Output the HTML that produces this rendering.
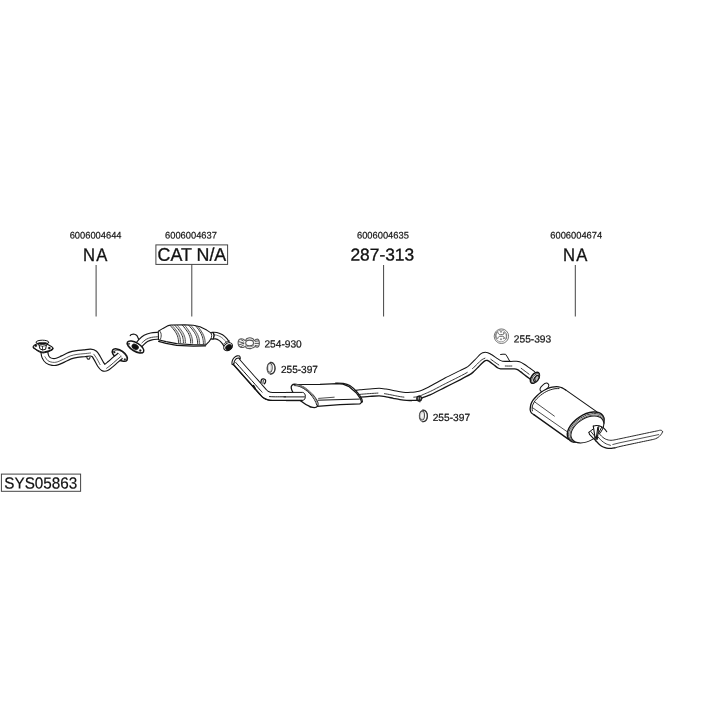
<!DOCTYPE html>
<html>
<head>
<meta charset="utf-8">
<title>SYS05863</title>
<style>
html,body{margin:0;padding:0;background:#fff;}
body{width:720px;height:720px;overflow:hidden;position:relative;}
svg{will-change:transform;position:absolute;left:0;top:0;display:block;}
text{text-rendering:geometricPrecision;font-family:"Liberation Sans",sans-serif;fill:#111;}
.s{font-size:9.5px;stroke:#1a1a1a;stroke-width:0.2px;}
.m{font-size:10.4px;stroke:#111;stroke-width:0.2px;}
.b{font-size:18.3px;stroke:#111;stroke-width:0.3px;}
.p{fill:none;stroke:#1a1a1a;stroke-width:0.9;stroke-linecap:round;stroke-linejoin:round;}
.pf{fill:#fff;stroke:#1a1a1a;stroke-width:0.9;stroke-linecap:round;stroke-linejoin:round;}
.l{stroke:#444;stroke-width:1;fill:none;}
</style>
</head>
<body>
<svg width="720" height="720" viewBox="0 0 720 720">
<rect width="720" height="720" fill="#fff"/>
<!-- TEXT -->
<g id="labels">
<text class="s" transform="translate(95.6 238.6) rotate(0.03) scale(0.982 1)" text-anchor="middle">6006004644</text>
<text class="b" transform="translate(95.75 260.8) rotate(0.03) scale(0.91 1)" text-anchor="middle" letter-spacing="1.3">NA</text>
<text class="s" transform="translate(191.0 238.6) rotate(0.03) scale(0.982 1)" text-anchor="middle">6006004637</text>
<text class="b" transform="translate(191.9 260.8) rotate(0.03) scale(0.975 1)" text-anchor="middle">CAT N/A</text>
<text class="s" transform="translate(382.9 238.6) rotate(0.03) scale(0.982 1)" text-anchor="middle">6006004635</text>
<text class="b" style="font-size:17.2px" transform="translate(382.3 260.5) rotate(0.03) scale(1.01 1)" text-anchor="middle">287-313</text>
<text class="s" transform="translate(576.2 238.6) rotate(0.03) scale(0.982 1)" text-anchor="middle">6006004674</text>
<text class="b" transform="translate(575.85 260.8) rotate(0.03) scale(0.91 1)" text-anchor="middle" letter-spacing="1.3">NA</text>
<text class="m" transform="translate(264.4 347.4) rotate(0.03) scale(0.98 1)">254-930</text>
<text class="m" transform="translate(280.9 373.1) rotate(0.03) scale(0.972 1)">255-397</text>
<text class="m" transform="translate(513.8 342.5) rotate(0.03) scale(0.98 1)">255-393</text>
<text class="m" transform="translate(432.7 421.0) rotate(0.03) scale(0.98 1)">255-397</text>
<text class="b" style="font-size:16px;stroke-width:0.2px" transform="translate(4.3 488.4) rotate(0.03) scale(0.953 1)">SYS05863</text>
</g>
<g id="leaders">
<rect class="l" x="155.9" y="244.9" width="71.7" height="19.5"/>
<rect class="l" x="1.4" y="474.1" width="79.2" height="17.2"/>
<line class="l" x1="96.1" y1="265" x2="96.1" y2="316.5"/>
<line class="l" x1="191.8" y1="264.4" x2="191.8" y2="316.5"/>
<line class="l" x1="383.6" y1="265" x2="383.6" y2="316.5"/>
<line class="l" x1="575.3" y1="265" x2="575.3" y2="316.5"/>
</g>
<!-- PARTS -->
<g id="parts">
<g id="frontpipe">
<ellipse cx="119.9" cy="355.1" rx="8.8" ry="4.5" fill="#fff" stroke="#151515" stroke-width="1.5" transform="rotate(35 119.9 355.1)"/>
<path d="M113.3 351.6C113.92 351.37 115.55 350.17 117 350.2C118.45 350.23 120.47 350.75 122 351.8C123.53 352.85 125.43 355.2 126.2 356.5C126.97 357.8 126.53 359.08 126.6 359.6" fill="none" stroke="#151515" stroke-width="0.6" stroke-linecap="round" stroke-linejoin="round"/>
<ellipse cx="114.4" cy="352.2" rx="0.9" ry="0.9" fill="#222" stroke="#151515" stroke-width="0.3"/>
<ellipse cx="124.9" cy="359.4" rx="0.9" ry="0.9" fill="#222" stroke="#151515" stroke-width="0.3"/>
<path d="M44.3 351.5C44.47 352.33 44.65 355.02 45.3 356.5C45.95 357.98 47 359.5 48.2 360.4C49.4 361.3 51.03 361.7 52.5 361.9C53.97 362.1 55.25 362.08 57 361.6C58.75 361.12 60.83 360 63 359C65.17 358 67.67 356.43 70 355.6C72.33 354.77 74.67 354.38 77 354C79.33 353.62 81.75 353.53 84 353.3C86.25 353.07 88.78 352.5 90.5 352.6C92.22 352.7 93.17 352.95 94.3 353.9C95.43 354.85 96.25 356.57 97.3 358.3C98.35 360.03 99.6 362.78 100.6 364.3C101.6 365.82 102.35 366.88 103.3 367.4C104.25 367.92 105.1 367.93 106.3 367.4C107.5 366.87 108.97 365.47 110.5 364.2C112.03 362.93 113.85 361.22 115.5 359.8C117.15 358.38 119.58 356.38 120.4 355.7" fill="none" stroke="#151515" stroke-width="8.05" stroke-linecap="butt" stroke-linejoin="round"/>
<path d="M44.3 351.5C44.47 352.33 44.65 355.02 45.3 356.5C45.95 357.98 47 359.5 48.2 360.4C49.4 361.3 51.03 361.7 52.5 361.9C53.97 362.1 55.25 362.08 57 361.6C58.75 361.12 60.83 360 63 359C65.17 358 67.67 356.43 70 355.6C72.33 354.77 74.67 354.38 77 354C79.33 353.62 81.75 353.53 84 353.3C86.25 353.07 88.78 352.5 90.5 352.6C92.22 352.7 93.17 352.95 94.3 353.9C95.43 354.85 96.25 356.57 97.3 358.3C98.35 360.03 99.6 362.78 100.6 364.3C101.6 365.82 102.35 366.88 103.3 367.4C104.25 367.92 105.1 367.93 106.3 367.4C107.5 366.87 108.97 365.47 110.5 364.2C112.03 362.93 113.85 361.22 115.5 359.8C117.15 358.38 119.58 356.38 120.4 355.7" fill="none" stroke="#fff" stroke-width="5.75" stroke-linecap="butt" stroke-linejoin="round"/>
<path d="M44.98 356.74C45.48 357.4 46.72 359.79 47.96 360.72C49.2 361.65 50.92 362.09 52.45 362.3C53.97 362.51 55.32 362.47 57.11 361.99C58.89 361.5 61 360.36 63.17 359.36C65.34 358.36 67.82 356.8 70.13 355.98C72.45 355.15 74.75 354.77 77.06 354.39C79.38 354.01 81.79 353.93 84.04 353.7C86.29 353.47 89.46 353.11 90.54 353" fill="none" stroke="#333" stroke-width="0.8" stroke-linecap="round" stroke-linejoin="round"/>
<path d="M106.67 368.22C107.4 367.67 109.5 366.18 111.07 364.89C112.64 363.6 114.44 361.9 116.09 360.48C117.74 359.07 120.16 357.07 120.98 356.39" fill="none" stroke="#2a2a2a" stroke-width="0.9" stroke-linecap="round" stroke-linejoin="round"/>
<path d="M93.8 354.24C94.3 354.97 95.74 356.89 96.79 358.61C97.83 360.34 99.53 363.59 100.07 364.59" fill="none" stroke="#333" stroke-width="0.8" stroke-linecap="round" stroke-linejoin="round"/>
<path d="M86.8 357C86.9 357.28 86.97 358.38 87.4 358.7C87.83 359.02 88.97 359.15 89.4 358.9C89.83 358.65 89.9 357.48 90 357.2" fill="none" stroke="#222" stroke-width="1.1" stroke-linecap="round" stroke-linejoin="round"/>
<path d="M33.2 346.4C33.69 345.33 34.43 344.75 36.6 344C38.77 343.25 39.72 342.99 42.5 343.2C45.28 343.41 46.07 343.8 48.5 344.9C50.93 346 52.43 346.64 52.9 347.9C53.37 349.16 52.23 349.41 50.5 350.3C48.77 351.19 47.41 351.28 45.5 351.7C43.59 352.12 43.93 352.33 42.3 352.1C40.67 351.87 40.32 351.52 38.5 350.7C36.68 349.88 35.74 349.6 34.5 348.6C33.26 347.6 32.71 347.47 33.2 346.4Z" fill="#fff" stroke="#151515" stroke-width="1.2" stroke-linecap="round" stroke-linejoin="round"/>
<path d="M33.4 347.4C34.54 348.33 36.22 350.14 38.3 351.4C40.38 352.66 40.39 352.61 42.3 352.8C44.21 352.99 44.35 352.78 46.5 352.2C48.65 351.62 49.98 351.19 51.5 350.3C53.02 349.41 52.65 348.84 53 348.4" fill="none" stroke="#151515" stroke-width="1.1" stroke-linecap="round" stroke-linejoin="round"/>
<ellipse cx="35.8" cy="345.8" rx="1.15" ry="1" fill="#111" stroke="#151515" stroke-width="0.3"/>
<ellipse cx="49.3" cy="348.1" rx="1.2" ry="1.05" fill="#111" stroke="#151515" stroke-width="0.3"/>
<path d="M36.2 342.5L39.1 345.3L39.9 348.8L42.6 350L45.6 349.3L46.4 345L48.7 342.4" fill="#fff" stroke="#151515" stroke-width="1" stroke-linecap="round" stroke-linejoin="round"/>
<ellipse cx="42.4" cy="342.2" rx="6.3" ry="2" fill="#fff" stroke="#151515" stroke-width="1"/>
<path d="M38.1 343.2C38.2 342.97 39.25 342.73 40 342.6C40.75 342.47 41.73 342.42 42.6 342.4C43.47 342.38 44.52 342.4 45.2 342.5C45.88 342.6 46.65 342.77 46.7 343C46.75 343.23 46.22 343.7 45.5 343.9C44.78 344.1 43.42 344.18 42.4 344.2C41.38 344.22 40.12 344.17 39.4 344C38.68 343.83 38 343.43 38.1 343.2Z" fill="#111" stroke="#151515" stroke-width="0.5" stroke-linecap="round" stroke-linejoin="round"/>
<path d="M39.3 345.4C39.85 345.55 41.45 346.33 42.6 346.3C43.75 346.27 45.6 345.38 46.2 345.2" fill="none" stroke="#151515" stroke-width="0.8" stroke-linecap="round" stroke-linejoin="round"/>
<path d="M42.5 346.5 L42.5 349.8" fill="none" stroke="#151515" stroke-width="0.8" stroke-linecap="round" stroke-linejoin="round"/>
</g>
<g id="cat">
<path d="M130.2 335.6C130.42 335.42 130.78 334.72 131.5 334.5C132.22 334.28 133.62 334.13 134.5 334.3C135.38 334.47 136.22 334.92 136.8 335.5C137.38 336.08 137.67 337.08 138 337.8C138.33 338.52 138.67 339.47 138.8 339.8" fill="none" stroke="#151515" stroke-width="1.15" stroke-linecap="round" stroke-linejoin="round"/>
<path d="M137.3 347C137.97 346.18 139.88 343.53 141.3 342.1C142.72 340.67 144.13 339.35 145.8 338.4C147.47 337.45 149.18 336.85 151.3 336.4C153.42 335.95 157.3 335.82 158.5 335.7" fill="none" stroke="#151515" stroke-width="8.15" stroke-linecap="butt" stroke-linejoin="round"/>
<path d="M137.3 347C137.97 346.18 139.88 343.53 141.3 342.1C142.72 340.67 144.13 339.35 145.8 338.4C147.47 337.45 149.18 336.85 151.3 336.4C153.42 335.95 157.3 335.82 158.5 335.7" fill="none" stroke="#fff" stroke-width="5.85" stroke-linecap="butt" stroke-linejoin="round"/>
<path d="M141.94 342.87C142.66 342.27 144.7 340.18 146.3 339.27C147.89 338.35 149.46 337.81 151.51 337.38C153.56 336.95 157.42 336.81 158.6 336.7" fill="none" stroke="#2a2a2a" stroke-width="0.9" stroke-linecap="round" stroke-linejoin="round"/>
<ellipse cx="135.5" cy="347" rx="9.4" ry="4.3" fill="#fff" stroke="#151515" stroke-width="1.5" transform="rotate(31 135.5 347)"/>
<ellipse cx="135.2" cy="346.8" rx="3.5" ry="2.4" fill="#111" stroke="#151515" stroke-width="0.8" transform="rotate(31 135.2 346.8)"/>
<ellipse cx="129" cy="343.8" rx="0.8" ry="0.8" fill="#222" stroke="#151515" stroke-width="0.3"/>
<ellipse cx="140.3" cy="350.5" rx="1" ry="1" fill="#111" stroke="#151515" stroke-width="0.3"/>
<path d="M127.3 343.6C127.92 344.32 129.38 346.55 131 347.9C132.62 349.25 135.07 350.92 137 351.7C138.93 352.48 141.67 352.45 142.6 352.6" fill="none" stroke="#151515" stroke-width="0.7" stroke-linecap="round" stroke-linejoin="round"/>
<path d="M211.5 335.6C212.28 335.62 214.65 335.37 216.2 335.7C217.75 336.03 219.43 336.73 220.8 337.6C222.17 338.47 223.38 339.73 224.4 340.9C225.42 342.07 226.3 343.65 226.9 344.6C227.5 345.55 227.82 346.27 228 346.6" fill="none" stroke="#151515" stroke-width="7.75" stroke-linecap="butt" stroke-linejoin="round"/>
<path d="M211.5 335.6C212.28 335.62 214.65 335.37 216.2 335.7C217.75 336.03 219.43 336.73 220.8 337.6C222.17 338.47 223.38 339.73 224.4 340.9C225.42 342.07 226.3 343.65 226.9 344.6C227.5 345.55 227.82 346.27 228 346.6" fill="none" stroke="#fff" stroke-width="5.45" stroke-linecap="butt" stroke-linejoin="round"/>
<path d="M211.51 335C212.31 335.02 214.72 334.76 216.33 335.11C217.93 335.46 219.7 336.19 221.12 337.09C222.54 337.99 223.81 339.31 224.85 340.51C225.9 341.7 226.97 343.64 227.4 344.26" fill="none" stroke="#444" stroke-width="0.7" stroke-linecap="round" stroke-linejoin="round"/>
<ellipse cx="228.1" cy="346.7" rx="4.7" ry="3.5" fill="#fff" stroke="#151515" stroke-width="1.1" transform="rotate(-35 228.1 346.7)"/>
<ellipse cx="228.7" cy="347.4" rx="3.4" ry="2.7" fill="#111" stroke="#151515" stroke-width="0.6" transform="rotate(-35 228.7 347.4)"/>
<path d="M223.9 343.9C224.27 343.57 225.2 342.4 226.1 341.9C227 341.4 228.77 341.07 229.3 340.9" fill="none" stroke="#151515" stroke-width="0.8" stroke-linecap="round" stroke-linejoin="round"/>
<path d="M158.3 331.2L163 328.4L168.3 325.6L171 325L185 324.9L193.3 325.2L200 326.7L206.7 330.1L210.9 332.9L213.3 332.5L214.1 335.4L213.3 339L211 338.8L209 341.6L205.8 344.9L193.3 344.8L176.7 343.6L166 341.6L158.5 339.8Z" fill="#fff" stroke="#151515" stroke-width="1.1" stroke-linecap="round" stroke-linejoin="round"/>
<path d="M158.6 341.4L166 343.3L176.7 345.3L193.3 346.2L205.6 345.8" fill="none" stroke="#151515" stroke-width="1.2" stroke-linecap="round" stroke-linejoin="round"/>
<path d="M210.9 332.9C211.03 333.33 211.68 334.52 211.7 335.5C211.72 336.48 211.12 338.25 211 338.8" fill="none" stroke="#151515" stroke-width="0.9" stroke-linecap="round" stroke-linejoin="round"/>
<path d="M213.3 332.5C213.43 332.98 214.1 334.32 214.1 335.4C214.1 336.48 213.43 338.4 213.3 339" fill="none" stroke="#151515" stroke-width="0.9" stroke-linecap="round" stroke-linejoin="round"/>
<path d="M159.6 331C159.82 331.33 160.63 332.17 160.9 333C161.17 333.83 161.27 335 161.2 336C161.13 337 160.78 338.3 160.5 339C160.22 339.7 159.67 340 159.5 340.2" fill="none" stroke="#151515" stroke-width="0.8" stroke-linecap="round" stroke-linejoin="round"/>
<path d="M169.9 325.2C170.42 325.77 172.05 327.5 173 328.65C173.94 329.79 174.83 330.89 175.58 332.09C176.32 333.3 177.01 334.68 177.47 335.88C177.93 337.09 178.16 338.24 178.33 339.33C178.5 340.42 178.47 341.91 178.5 342.43" fill="none" stroke="#222" stroke-width="0.95" stroke-linecap="round" stroke-linejoin="round"/>
<path d="M174 328.65C174.43 329.22 175.83 330.89 176.58 332.09C177.32 333.3 178.01 334.68 178.47 335.88C178.93 337.09 179.16 338.24 179.33 339.33C179.5 340.42 179.47 341.91 179.5 342.43" fill="none" stroke="#c8c8c8" stroke-width="1" stroke-linecap="round" stroke-linejoin="round"/>
<path d="M171.9 325.2C172.42 325.78 174.08 327.51 175.03 328.67C175.99 329.82 176.89 330.92 177.64 332.14C178.4 333.35 179.09 334.74 179.56 335.95C180.02 337.17 180.25 338.32 180.43 339.42C180.6 340.52 180.57 342.02 180.6 342.54" fill="none" stroke="#3a3a3a" stroke-width="0.8" stroke-linecap="round" stroke-linejoin="round"/>
<path d="M174.7 325.2C175.22 325.78 176.88 327.53 177.83 328.7C178.79 329.87 179.69 330.97 180.44 332.2C181.2 333.42 181.89 334.82 182.36 336.05C182.82 337.27 183.05 338.44 183.23 339.55C183.4 340.66 183.37 342.17 183.4 342.7" fill="none" stroke="#222" stroke-width="0.95" stroke-linecap="round" stroke-linejoin="round"/>
<path d="M178.83 328.7C179.27 329.28 180.69 330.97 181.44 332.2C182.2 333.42 182.89 334.82 183.36 336.05C183.82 337.27 184.05 338.44 184.23 339.55C184.4 340.66 184.37 342.17 184.4 342.7" fill="none" stroke="#c8c8c8" stroke-width="1" stroke-linecap="round" stroke-linejoin="round"/>
<path d="M177.2 325.2C177.7 325.79 179.27 327.55 180.19 328.72C181.1 329.9 181.96 331.01 182.68 332.25C183.4 333.48 184.06 334.89 184.5 336.12C184.95 337.35 185.17 338.53 185.33 339.64C185.5 340.76 185.47 342.28 185.5 342.81" fill="none" stroke="#3a3a3a" stroke-width="0.8" stroke-linecap="round" stroke-linejoin="round"/>
<path d="M182.4 325.2C182.9 325.8 184.48 327.59 185.39 328.78C186.3 329.97 187.16 331.11 187.88 332.36C188.6 333.61 189.26 335.04 189.7 336.3C190.15 337.55 190.37 338.74 190.53 339.88C190.7 341.01 190.67 342.56 190.7 343.1" fill="none" stroke="#222" stroke-width="0.95" stroke-linecap="round" stroke-linejoin="round"/>
<path d="M186.39 328.78C186.8 329.38 188.16 331.11 188.88 332.36C189.6 333.61 190.26 335.04 190.7 336.3C191.15 337.55 191.37 338.74 191.53 339.88C191.7 341.01 191.67 342.56 191.7 343.1" fill="none" stroke="#c8c8c8" stroke-width="1" stroke-linecap="round" stroke-linejoin="round"/>
<path d="M184.6 325.2C185.08 325.8 186.6 327.6 187.48 328.8C188.36 330 189.19 331.14 189.88 332.4C190.57 333.66 191.21 335.1 191.64 336.36C192.07 337.62 192.28 338.82 192.44 339.96C192.6 341.1 192.57 342.66 192.6 343.2" fill="none" stroke="#3a3a3a" stroke-width="0.8" stroke-linecap="round" stroke-linejoin="round"/>
<path d="M188.6 325.2C189.14 325.81 190.85 327.64 191.84 328.86C192.83 330.07 193.76 331.23 194.54 332.51C195.32 333.79 196.04 335.25 196.52 336.53C197 337.81 197.24 339.03 197.42 340.19C197.6 341.35 197.57 342.93 197.6 343.48" fill="none" stroke="#222" stroke-width="0.95" stroke-linecap="round" stroke-linejoin="round"/>
<path d="M192.84 328.86C193.29 329.46 194.76 331.23 195.54 332.51C196.32 333.79 197.04 335.25 197.52 336.53C198 337.81 198.24 339.03 198.42 340.19C198.6 341.35 198.57 342.93 198.6 343.48" fill="none" stroke="#c8c8c8" stroke-width="1" stroke-linecap="round" stroke-linejoin="round"/>
<path d="M190.7 325.2C191.23 325.81 192.93 327.65 193.9 328.88C194.88 330.1 195.8 331.27 196.57 332.56C197.35 333.84 198.06 335.31 198.53 336.6C199.01 337.89 199.24 339.11 199.42 340.28C199.6 341.44 199.57 343.04 199.6 343.59" fill="none" stroke="#3a3a3a" stroke-width="0.8" stroke-linecap="round" stroke-linejoin="round"/>
<path d="M195.6 325.72C196.07 326.32 197.55 328.13 198.41 329.34C199.27 330.54 200.07 331.69 200.75 332.95C201.42 334.22 202.05 335.66 202.46 336.93C202.88 338.19 203.09 339.4 203.24 340.54C203.4 341.69 203.37 343.25 203.4 343.8" fill="none" stroke="#222" stroke-width="0.95" stroke-linecap="round" stroke-linejoin="round"/>
<path d="M199.41 329.34C199.8 329.94 201.07 331.69 201.75 332.95C202.42 334.22 203.05 335.66 203.46 336.93C203.88 338.19 204.09 339.4 204.24 340.54C204.4 341.69 204.37 343.25 204.4 343.8" fill="none" stroke="#c8c8c8" stroke-width="1" stroke-linecap="round" stroke-linejoin="round"/>
<path d="M197.6 326.12C198.06 326.71 199.5 328.49 200.34 329.68C201.17 330.86 201.96 331.99 202.62 333.23C203.27 334.47 203.88 335.9 204.29 337.14C204.69 338.39 204.9 339.57 205.05 340.7C205.2 341.82 205.17 343.36 205.2 343.9" fill="none" stroke="#3a3a3a" stroke-width="0.8" stroke-linecap="round" stroke-linejoin="round"/>
</g>
<g id="clamp">
<path d="M238.4 341C238.88 339.45 238.92 339.48 240.2 339C241.48 338.52 241.87 338.83 243.2 339.2C244.53 339.57 244.19 340.56 245.2 340.4C246.21 340.24 245.77 339.29 247 338.6C248.23 337.91 248.31 337.8 249.8 337.8C251.29 337.8 251.37 337.91 252.6 338.6C253.83 339.29 253.44 340.19 254.4 340.4C255.36 340.61 255.13 339.61 256.2 339.4C257.27 339.19 257.57 338.8 258.4 339.6C259.23 340.4 259.14 340.8 259.3 342.4C259.46 344 259.45 344.32 259 345.6C258.55 346.88 258.61 346.93 257.6 347.2C256.59 347.47 256.27 346.55 255.2 346.6C254.13 346.65 254.85 346.87 253.6 347.4C252.35 347.93 252.26 348.39 250.5 348.6C248.74 348.81 248.41 348.73 247 348.2C245.59 347.67 246.21 346.81 245.2 346.6C244.19 346.39 244.53 347.29 243.2 347.4C241.87 347.51 241.48 347.69 240.2 347C238.92 346.31 238.88 346.4 238.4 344.8C237.92 343.2 237.92 342.55 238.4 341Z" fill="#f4f4f4" stroke="#5a5a5a" stroke-width="1.1" stroke-linecap="round" stroke-linejoin="round"/>
<ellipse cx="249.6" cy="342.9" rx="3.9" ry="2.8" fill="#fff" stroke="#5a5a5a" stroke-width="1.1"/>
<path d="M245.3 345.2C247 347.2 252 347.3 253.9 345.2" fill="none" stroke="#777" stroke-width="0.8"/>
<path d="M238.6 341.6L244.2 343.2L238.6 345M240.6 339.4L243.6 341.2M240.4 346.8L243.8 345" stroke="#444" stroke-width="0.9" fill="none"/>
<path d="M254.8 341.4L259.0 340.8M254.8 345.4L258.8 346.2M254.6 343.4H259.2" stroke="#444" stroke-width="0.9" fill="none"/>
</g>
<g id="rings">
<ellipse cx="271" cy="368.2" rx="4" ry="5.9" fill="#fff" stroke="#666" stroke-width="1" transform="rotate(4 271 368.2)"/>
<path d="M270.4 362.35C273.6 362.6 275.3 365.6 275.1 368.8C274.9 371.8 273.2 374 270.4 374.05" fill="none" stroke="#333" stroke-width="1.2" stroke-linecap="round"/>
<ellipse cx="269.8" cy="367.9" rx="2.4" ry="4.3" fill="#fff" stroke="#4a4a4a" stroke-width="1" transform="rotate(2 269.8 367.9)"/>
<ellipse cx="269.7" cy="367.9" rx="1.3" ry="3.3" fill="none" stroke="#aaa" stroke-width="0.5" transform="rotate(2 269.7 367.9)"/>
<ellipse cx="423.3" cy="415.9" rx="4" ry="5.9" fill="#fff" stroke="#666" stroke-width="1" transform="rotate(4 423.3 415.9)"/>
<path d="M422.7 410.05C425.9 410.3 427.6 413.3 427.4 416.5C427.2 419.5 425.5 421.7 422.7 421.75" fill="none" stroke="#333" stroke-width="1.2" stroke-linecap="round"/>
<ellipse cx="422.1" cy="415.6" rx="2.4" ry="4.3" fill="#fff" stroke="#4a4a4a" stroke-width="1" transform="rotate(2 422.1 415.6)"/>
<ellipse cx="422" cy="415.6" rx="1.3" ry="3.3" fill="none" stroke="#aaa" stroke-width="0.5" transform="rotate(2 422 415.6)"/>
</g>
<g id="mount">
<ellipse cx="501.4" cy="336.2" rx="7.2" ry="7.3" fill="#fff" stroke="#777" stroke-width="1"/>
<ellipse cx="501.1" cy="336" rx="5.7" ry="5.9" fill="none" stroke="#888" stroke-width="0.8"/>
<path d="M497.7 332.2C498.2 334.2 499.3 334.6 500.3 334.6L502.7 334.6C503.6 334.6 504.3 334 504.2 332.6" fill="none" stroke="#555" stroke-width="0.9" stroke-linecap="round"/>
<path d="M497.7 338.5C498.2 336.7 499.2 336.3 500 336.3L502.7 336.3C503.7 336.3 504.3 337 504.5 338.2" fill="none" stroke="#555" stroke-width="0.9" stroke-linecap="round"/>
<path d="M496.3 332.8C495.9 334.6 495.9 336.6 496.4 338.3M506 333.8C506.5 335.6 506.4 337.4 506 339" fill="none" stroke="#666" stroke-width="0.9" stroke-linecap="round"/>
<ellipse cx="501" cy="331.7" rx="0.7" ry="0.7" fill="#888" stroke="#666" stroke-width="0.5"/>
<ellipse cx="501" cy="339.3" rx="0.7" ry="0.7" fill="#888" stroke="#666" stroke-width="0.5"/>
<ellipse cx="503.6" cy="332.9" rx="0.5" ry="0.5" fill="#777" stroke="#666" stroke-width="0.4"/>
<ellipse cx="503.6" cy="338.3" rx="0.5" ry="0.5" fill="#777" stroke="#666" stroke-width="0.4"/>
</g>
<g id="mid">
<path d="M260.9 382.6C261 382.1 261.08 380.23 261.5 379.6C261.92 378.97 262.75 378.75 263.4 378.8C264.05 378.85 265.07 379.3 265.4 379.9C265.73 380.5 265.58 381.75 265.4 382.4C265.22 383.05 264.48 383.57 264.3 383.8" fill="none" stroke="#151515" stroke-width="1.3" stroke-linecap="round" stroke-linejoin="round"/>
<path d="M263.3 380.4 L262.9 383.4" fill="none" stroke="#151515" stroke-width="0.9" stroke-linecap="round" stroke-linejoin="round"/>
<path d="M236.45 361.9C237.51 363.1 242.27 368.5 244.4 370.9C246.53 373.3 250.51 377.77 252.4 379.9C254.29 382.03 257.23 385.35 258.6 386.9C259.97 388.45 261.77 390.49 262.7 391.5C263.63 392.51 264.69 393.87 265.6 394.5C266.51 395.13 268.38 395.95 269.5 396.2C270.62 396.45 272.33 396.37 274 396.4C275.67 396.43 279.6 396.4 282 396.4C284.4 396.4 289.2 396.4 292 396.4C294.8 396.4 301.53 396.4 303 396.4" fill="none" stroke="#151515" stroke-width="9" stroke-linecap="butt" stroke-linejoin="round"/>
<path d="M236.45 361.9C237.51 363.1 242.27 368.5 244.4 370.9C246.53 373.3 250.51 377.77 252.4 379.9C254.29 382.03 257.23 385.35 258.6 386.9C259.97 388.45 261.77 390.49 262.7 391.5C263.63 392.51 264.69 393.87 265.6 394.5C266.51 395.13 268.38 395.95 269.5 396.2C270.62 396.45 272.33 396.37 274 396.4C275.67 396.43 279.6 396.4 282 396.4C284.4 396.4 289.2 396.4 292 396.4C294.8 396.4 301.53 396.4 303 396.4" fill="none" stroke="#fff" stroke-width="7" stroke-linecap="butt" stroke-linejoin="round"/>
<path d="M233.45 364.55C234.51 365.75 239.28 371.15 241.41 373.55C243.53 375.95 247.51 380.42 249.41 382.56C251.3 384.69 254.23 388 255.61 389.56C256.99 391.11 258.73 393.11 259.76 394.21C260.79 395.31 262.14 397 263.33 397.79C264.51 398.58 267.2 399.75 268.62 400.1C270.03 400.45 272.15 400.36 273.94 400.4C275.72 400.44 279.59 400.4 282 400.4C284.41 400.4 290.67 400.4 292 400.4" fill="none" stroke="#151515" stroke-width="1.4" stroke-linecap="round" stroke-linejoin="round"/>
<path d="M235.78 362.5C237.1 364 241.07 368.5 243.73 371.5C246.38 374.5 249.36 377.83 251.73 380.5C254.09 383.16 256.21 385.56 257.93 387.5C259.64 389.43 261.34 391.33 262.03 392.1" fill="none" stroke="#1a1a1a" stroke-width="1" stroke-linecap="round" stroke-linejoin="round"/>
<path d="M269.48 396.6C270.23 396.63 271.91 396.77 273.99 396.8C276.08 396.83 279 396.8 282 396.8C285 396.8 288.5 396.8 292 396.8C295.5 396.8 301.17 396.8 303 396.8" fill="none" stroke="#1a1a1a" stroke-width="1" stroke-linecap="round" stroke-linejoin="round"/>
<path d="M253.4 385.8 L255 388.4" fill="none" stroke="#111" stroke-width="1.9" stroke-linecap="round" stroke-linejoin="round"/>
<path d="M232.2 364.6C231.82 364.36 231.92 363.12 232 362.2C232.08 361.28 232.16 360.92 232.6 360C233.04 359.08 233.3 358.42 234.2 357.6C235.1 356.78 236.06 356.2 237.1 355.9C238.14 355.6 238.78 355.76 239.4 356.1C240.02 356.44 240.06 356.96 240.2 357.6C240.34 358.24 240.4 359.2 240.1 359.3C239.8 359.4 239.4 358.24 238.7 358.1C238 357.96 237.34 358.18 236.6 358.6C235.86 359.02 235.48 359.52 235 360.2C234.52 360.88 234.42 361.36 234.2 362C233.98 362.64 234.3 362.88 233.9 363.4C233.5 363.92 232.58 364.84 232.2 364.6Z" fill="#fff" stroke="#151515" stroke-width="1.1" stroke-linecap="round" stroke-linejoin="round"/>
<path d="M355 390.5C355.67 390.39 358 389.91 360 389.7C362 389.49 367.44 389.09 370 388.9C372.56 388.71 377.07 388.27 379.2 388.3C381.33 388.33 384.12 388.82 386 389.1C387.88 389.38 391.43 390.04 393.3 390.4C395.17 390.76 398.37 391.52 400 391.8C401.63 392.08 404.03 392.43 405.5 392.5C406.97 392.57 409.73 392.38 411 392.3C412.27 392.22 413.93 392.05 415 391.9C416.07 391.75 417.93 391.49 419 391.2C420.07 390.91 421.97 390.13 423 389.7C424.03 389.27 425.77 388.45 426.7 388C427.63 387.55 427.56 387.63 430 386.3C432.44 384.97 441 380.09 445 378C449 375.91 456.96 372.12 460 370.6C463.04 369.08 465.85 368 467.8 366.6C469.75 365.2 472.92 361.75 474.6 360.1C476.28 358.45 479.31 355.19 480.4 354.2C481.49 353.21 482.15 352.97 482.8 352.7C483.45 352.43 484.63 352.2 485.3 352.2C485.97 352.2 487.16 352.49 487.8 352.7C488.44 352.91 489.01 353.15 490.1 353.8C491.19 354.45 494.71 356.76 496 357.6C497.29 358.44 498.93 359.62 499.8 360.1C500.67 360.58 501.06 361.03 502.5 361.2C503.94 361.37 508.8 361.39 510.6 361.4C512.4 361.41 514.8 361.26 516 361.3C517.2 361.34 518.51 361.31 519.6 361.7C520.69 362.09 522.81 363.32 524.2 364.2C525.59 365.08 528.61 367.31 530 368.3C531.39 369.29 533.99 371.16 534.6 371.6L530 379L525.5 375.6L520.4 371.6L517.5 369.6L514.5 368.9L505.7 368.9L500.6 368.8L498 368L494 365L489.6 361.6L487.5 360.5L485.3 360.7L482 363.2L477.5 367.9L473.5 371.8L469.7 374.7L460 379.8L445 387.4L432 394L427 396.1L422.3 397.9L419.2 399.5L416 400.3L412 400.45L406.7 400.4L400 399.6L393.3 398.3L386 396.8L379.2 395.9L370 396.4L360 397.2L355 397.9Z" fill="#fff" stroke="none"/>
<path d="M355 390.5C355.67 390.39 358 389.91 360 389.7C362 389.49 367.44 389.09 370 388.9C372.56 388.71 377.07 388.27 379.2 388.3C381.33 388.33 384.12 388.82 386 389.1C387.88 389.38 391.43 390.04 393.3 390.4C395.17 390.76 398.37 391.52 400 391.8C401.63 392.08 404.03 392.43 405.5 392.5C406.97 392.57 409.73 392.38 411 392.3C412.27 392.22 413.93 392.05 415 391.9C416.07 391.75 417.93 391.49 419 391.2C420.07 390.91 421.97 390.13 423 389.7C424.03 389.27 425.77 388.45 426.7 388C427.63 387.55 427.56 387.63 430 386.3C432.44 384.97 441 380.09 445 378C449 375.91 456.96 372.12 460 370.6C463.04 369.08 465.85 368 467.8 366.6C469.75 365.2 472.92 361.75 474.6 360.1C476.28 358.45 479.31 355.19 480.4 354.2C481.49 353.21 482.15 352.97 482.8 352.7C483.45 352.43 484.63 352.2 485.3 352.2C485.97 352.2 487.16 352.49 487.8 352.7C488.44 352.91 489.01 353.15 490.1 353.8C491.19 354.45 494.71 356.76 496 357.6C497.29 358.44 498.93 359.62 499.8 360.1C500.67 360.58 501.06 361.03 502.5 361.2C503.94 361.37 508.8 361.39 510.6 361.4C512.4 361.41 514.8 361.26 516 361.3C517.2 361.34 518.51 361.31 519.6 361.7C520.69 362.09 522.81 363.32 524.2 364.2C525.59 365.08 528.61 367.31 530 368.3C531.39 369.29 533.99 371.16 534.6 371.6" fill="none" stroke="#151515" stroke-width="1.05" stroke-linecap="round" stroke-linejoin="round"/>
<path d="M355 397.9C355.67 397.81 358 397.4 360 397.2C362 397 367.44 396.57 370 396.4C372.56 396.23 377.07 395.85 379.2 395.9C381.33 395.95 384.12 396.48 386 396.8C387.88 397.12 391.43 397.93 393.3 398.3C395.17 398.67 398.21 399.32 400 399.6C401.79 399.88 405.1 400.29 406.7 400.4C408.3 400.51 410.76 400.46 412 400.45C413.24 400.44 415.04 400.43 416 400.3C416.96 400.17 418.36 399.82 419.2 399.5C420.04 399.18 421.26 398.35 422.3 397.9C423.34 397.45 425.71 396.62 427 396.1C428.29 395.58 429.6 395.16 432 394C434.4 392.84 441.27 389.29 445 387.4C448.73 385.51 456.71 381.49 460 379.8C463.29 378.11 467.9 375.77 469.7 374.7C471.5 373.63 472.46 372.71 473.5 371.8C474.54 370.89 476.37 369.05 477.5 367.9C478.63 366.75 480.96 364.16 482 363.2C483.04 362.24 484.57 361.06 485.3 360.7C486.03 360.34 486.93 360.38 487.5 360.5C488.07 360.62 488.73 361 489.6 361.6C490.47 362.2 492.88 364.15 494 365C495.12 365.85 497.12 367.49 498 368C498.88 368.51 499.57 368.68 500.6 368.8C501.63 368.92 503.85 368.89 505.7 368.9C507.55 368.91 512.93 368.81 514.5 368.9C516.07 368.99 516.71 369.24 517.5 369.6C518.29 369.96 519.33 370.8 520.4 371.6C521.47 372.4 524.22 374.61 525.5 375.6C526.78 376.59 529.4 378.55 530 379" fill="none" stroke="#151515" stroke-width="1.35" stroke-linecap="round" stroke-linejoin="round"/>
<path d="M358.26 394.61C358.69 394.56 360.65 394.31 361.53 394.23C362.4 394.14 363.93 394.04 364.81 393.97C365.68 393.9 367.21 393.77 368.09 393.7C368.97 393.64 370.5 393.53 371.37 393.47C372.25 393.41 373.78 393.33 374.66 393.28C375.54 393.23 377.51 393.11 377.95 393.08" fill="none" stroke="#222" stroke-width="0.9" stroke-linecap="round" stroke-linejoin="round"/>
<path d="M384.49 393.68C384.92 393.75 386.87 394.05 387.74 394.21C388.6 394.36 390.11 394.67 390.97 394.84C391.83 395.01 393.34 395.31 394.2 395.48C395.06 395.65 396.56 395.96 397.43 396.13C398.29 396.29 399.8 396.59 400.66 396.72C401.53 396.85 403.5 397.07 403.93 397.12" fill="none" stroke="#222" stroke-width="0.9" stroke-linecap="round" stroke-linejoin="round"/>
<path d="M413.78 397.19C414.22 397.14 416.19 397 417.05 396.83C417.9 396.66 419.38 396.21 420.19 395.91C421.01 395.6 422.37 394.87 423.17 394.52C423.98 394.16 425.41 393.6 426.21 393.25C427.02 392.91 428.42 392.28 429.22 391.92C430.01 391.55 431.41 390.91 432.19 390.52C432.98 390.13 434.34 389.41 435.11 389C435.89 388.6 437.25 387.88 438.03 387.47C438.81 387.06 440.17 386.35 440.94 385.94C441.72 385.53 443.08 384.81 443.86 384.41C444.64 384.01 446.02 383.32 446.8 382.93C447.58 382.54 448.96 381.85 449.74 381.45C450.53 381.06 451.9 380.37 452.69 379.98C453.47 379.58 454.84 378.9 455.63 378.5C456.41 378.11 457.79 377.42 458.57 377.03C459.36 376.63 460.72 375.93 461.5 375.53C462.28 375.12 463.65 374.42 464.42 374.01C465.19 373.59 466.9 372.61 467.28 372.4" fill="none" stroke="#222" stroke-width="0.9" stroke-linecap="round" stroke-linejoin="round"/>
<path d="M472.53 368.5C472.86 368.21 474.34 366.91 474.98 366.3C475.61 365.7 476.7 364.61 477.32 363.99C477.93 363.36 478.98 362.22 479.62 361.63C480.26 361.04 481.41 360.02 482.12 359.56C482.82 359.1 484.54 358.4 484.92 358.22" fill="none" stroke="#222" stroke-width="0.9" stroke-linecap="round" stroke-linejoin="round"/>
<path d="M490.81 359.3C491.16 359.56 492.76 360.72 493.47 361.23C494.19 361.74 495.42 362.65 496.14 363.15C496.86 363.65 498.5 364.73 498.87 364.98" fill="none" stroke="#222" stroke-width="0.9" stroke-linecap="round" stroke-linejoin="round"/>
<path d="M505.26 366C505.7 366.01 507.68 366.04 508.56 366.05C509.43 366.05 511.41 366.03 511.85 366.02" fill="none" stroke="#222" stroke-width="0.9" stroke-linecap="round" stroke-linejoin="round"/>
<path d="M521.17 368.35C521.52 368.61 523.13 369.76 523.83 370.28C524.54 370.8 525.76 371.74 526.46 372.26C527.16 372.79 528.75 373.97 529.1 374.23" fill="none" stroke="#222" stroke-width="0.9" stroke-linecap="round" stroke-linejoin="round"/>
<ellipse cx="419.2" cy="398.6" rx="2.7" ry="2.8" fill="#1c1c1c" stroke="#151515" stroke-width="0.8"/>
<path d="M418.3 397.2V399.6M420.3 397.4V399.4" stroke="#ddd" stroke-width="0.8" fill="none"/>
<path d="M419.6 401 L419.8 402" fill="none" stroke="#333" stroke-width="1" stroke-linecap="round" stroke-linejoin="round"/>
<path d="M500.6 354.5L503 354.2L505.6 354.3L507.4 357L509.6 361" fill="none" stroke="#151515" stroke-width="1" stroke-linecap="round" stroke-linejoin="round"/>
<ellipse cx="534.9" cy="377.8" rx="6.2" ry="3.5" fill="#fff" stroke="#151515" stroke-width="1.5" transform="rotate(-55 534.9 377.8)"/>
<ellipse cx="535.5" cy="378.2" rx="5.2" ry="2.8" fill="#fff" stroke="#333" stroke-width="0.9" transform="rotate(-55 535.5 378.2)"/>
<ellipse cx="536.4" cy="378.7" rx="3.6" ry="2" fill="#bbb" stroke="#151515" stroke-width="1.2" transform="rotate(-55 536.4 378.7)"/>
<path d="M535.6 376.4C534.6 377.6 534.6 379.8 535.8 380.9" fill="none" stroke="#222" stroke-width="0.9"/>
<path d="M296 384.8L303.3 384.5L320 384.3L337 383.7L343 384.2L349.2 386.7L356.7 393.3L360.6 399L361.6 402.4L360 403.8L340 404.6L317 406.4L310 406.8Z" fill="#fff" stroke="#151515" stroke-width="1.25" stroke-linecap="round" stroke-linejoin="round"/>
<path d="M335.6 383C336.75 383.05 340.13 382.87 342.5 383.3C344.87 383.73 347.28 384.05 349.8 385.6C352.32 387.15 355.63 390.43 357.6 392.6C359.57 394.77 360.8 397.03 361.6 398.6C362.4 400.17 362.27 401.43 362.4 402" fill="none" stroke="#151515" stroke-width="1.2" stroke-linecap="round" stroke-linejoin="round"/>
<path d="M318.3 400.2L340 399.6L359.4 399.1" fill="none" stroke="#151515" stroke-width="1" stroke-linecap="round" stroke-linejoin="round"/>
<path d="M318.6 398.4L334.2 397.2" fill="none" stroke="#222" stroke-width="0.8" stroke-linecap="round" stroke-linejoin="round"/>
<ellipse cx="304.6" cy="395.9" rx="16.5" ry="6.4" fill="#fff" stroke="#151515" stroke-width="1.3" transform="rotate(39.5 304.6 395.9)"/>
<path d="M294.2 385.6C299 385.4 304.6 388.4 309.4 393.2C313.4 397.2 316.2 402 316.9 405.6" fill="none" stroke="#222" stroke-width="1.0"/>
<path d="M295.5 384.9C300.5 384.9 306 388 310.6 392.6C314.4 396.6 317.2 401.2 318.0 405.2" fill="none" stroke="#999" stroke-width="1.0"/>
<path d="M286 392.4H302.6C306.2 392.6 306.4 400.2 302.6 400.4H286" fill="#fff" stroke="#151515" stroke-width="1.0"/>
<path d="M286 400.5H302.6" fill="none" stroke="#151515" stroke-width="1.4"/>
<path d="M284 396.9L304.6 396.9" fill="none" stroke="#1a1a1a" stroke-width="1" stroke-linecap="round" stroke-linejoin="round"/>
</g>
<g id="rear">
<ellipse cx="544.4" cy="387.4" rx="5.2" ry="2.8" fill="#fff" stroke="#151515" stroke-width="1" transform="rotate(-43 544.4 387.4)"/>
<path d="M534.2 414.9C533.73 414.55 532.07 413.62 531.4 412.8C530.73 411.98 530.37 410.97 530.2 410C530.03 409.03 530.23 408.07 530.4 407C530.57 405.93 530.7 404.82 531.2 403.6C531.7 402.38 532.48 400.97 533.4 399.7C534.32 398.43 535.43 397.23 536.7 396C537.97 394.77 539.52 393.38 541 392.3C542.48 391.22 544.1 390.27 545.6 389.5C547.1 388.73 548.53 388.15 550 387.7C551.47 387.25 552.98 386.95 554.4 386.8C555.82 386.65 557.2 386.63 558.5 386.8C559.8 386.97 561.02 387.28 562.2 387.8C563.38 388.32 565.03 389.55 565.6 389.9L597.0 411.6L568.5 439.4Z" fill="#fff" stroke="none"/>
<path d="M534.2 414.9C533.73 414.55 532.07 413.62 531.4 412.8C530.73 411.98 530.37 410.97 530.2 410C530.03 409.03 530.23 408.07 530.4 407C530.57 405.93 530.7 404.82 531.2 403.6C531.7 402.38 532.48 400.97 533.4 399.7C534.32 398.43 535.43 397.23 536.7 396C537.97 394.77 539.52 393.38 541 392.3C542.48 391.22 544.1 390.27 545.6 389.5C547.1 388.73 548.53 388.15 550 387.7C551.47 387.25 552.98 386.95 554.4 386.8C555.82 386.65 557.2 386.63 558.5 386.8C559.8 386.97 561.02 387.28 562.2 387.8C563.38 388.32 565.03 389.55 565.6 389.9" fill="none" stroke="#151515" stroke-width="1.3" stroke-linecap="round" stroke-linejoin="round"/>
<path d="M532.4 410.8C532.35 410.27 531.98 408.72 532.1 407.6C532.22 406.48 532.55 405.3 533.1 404.1C533.65 402.9 534.48 401.58 535.4 400.4C536.32 399.22 537.4 398.1 538.6 397C539.8 395.9 541.23 394.75 542.6 393.8C543.97 392.85 545.43 391.98 546.8 391.3C548.17 390.62 549.43 390.13 550.8 389.7C552.17 389.27 553.63 388.88 555 388.7C556.37 388.52 558.33 388.62 559 388.6" fill="none" stroke="#222" stroke-width="1" stroke-linecap="round" stroke-linejoin="round"/>
<path d="M565.6 389.9L596.6 411.6" fill="none" stroke="#151515" stroke-width="1.1" stroke-linecap="round" stroke-linejoin="round"/>
<path d="M534.2 414.9L568.6 439.4" fill="none" stroke="#151515" stroke-width="1.3" stroke-linecap="round" stroke-linejoin="round"/>
<path d="M534.4 401.7L554.4 416.1" fill="none" stroke="#222" stroke-width="0.8" stroke-linecap="round" stroke-linejoin="round"/>
<path d="M532.4 407.6L567 431.6" fill="none" stroke="#222" stroke-width="0.8" stroke-linecap="round" stroke-linejoin="round"/>
<ellipse cx="585.7" cy="427.2" rx="20.7" ry="11.9" fill="#fff" stroke="#151515" stroke-width="1.4" transform="rotate(-33.9 585.7 427.2)"/>
<ellipse cx="586.3" cy="428" rx="19.8" ry="11.6" fill="none" stroke="#444" stroke-width="0.9" transform="rotate(-33.3 586.3 428)"/>
<ellipse cx="586.9" cy="428.8" rx="18.9" ry="11.3" fill="none" stroke="#555" stroke-width="0.8" transform="rotate(-32.7 586.9 428.8)"/>
<ellipse cx="587.4" cy="429.5" rx="18.1" ry="11.1" fill="#fff" stroke="#151515" stroke-width="1" transform="rotate(-32.1 587.4 429.5)"/>
<path d="M598.7 432.8C598.93 433.09 599.85 434.4 600.4 435C600.95 435.6 602.13 436.77 602.8 437.3C603.47 437.83 604.67 438.64 605.4 439C606.13 439.36 607.55 439.83 608.3 440C609.05 440.17 610.25 440.3 611 440.3C611.75 440.3 612.7 440.21 613.9 440C615.1 439.79 618.52 439.06 620 438.75C621.48 438.44 622.33 438.27 625 437.7C627.67 437.13 635.67 435.42 640 434.5C644.33 433.58 654.89 431.36 657.5 430.8C660.11 430.24 659.11 430.37 659.6 430.3C660.09 430.23 660.84 430.21 661.2 430.3C661.56 430.39 662.13 430.79 662.3 431C662.47 431.21 662.47 431.78 662.5 431.9L662.5 431.9L661.8 433.4L660.4 435.3L658.4 437.2L656 438.5L653.3 439.4L640 442.2L625 445.4L620 446.5L615 447.8L611.6 448.4L608.3 448.4L605 447.7L601.7 446.2L598.6 443.7L595.9 440.8Z" fill="#fff" stroke="none"/>
<path d="M598.7 432.8C598.93 433.09 599.85 434.4 600.4 435C600.95 435.6 602.13 436.77 602.8 437.3C603.47 437.83 604.67 438.64 605.4 439C606.13 439.36 607.55 439.83 608.3 440C609.05 440.17 610.25 440.3 611 440.3C611.75 440.3 612.7 440.21 613.9 440C615.1 439.79 618.52 439.06 620 438.75C621.48 438.44 622.33 438.27 625 437.7C627.67 437.13 635.67 435.42 640 434.5C644.33 433.58 654.89 431.36 657.5 430.8C660.11 430.24 659.11 430.37 659.6 430.3C660.09 430.23 660.84 430.21 661.2 430.3C661.56 430.39 662.13 430.79 662.3 431C662.47 431.21 662.47 431.78 662.5 431.9" fill="none" stroke="#222" stroke-width="0.95" stroke-linecap="round" stroke-linejoin="round"/>
<path d="M595.9 440.8C596.26 441.19 597.83 442.98 598.6 443.7C599.37 444.42 600.85 445.67 601.7 446.2C602.55 446.73 604.12 447.41 605 447.7C605.88 447.99 607.42 448.31 608.3 448.4C609.18 448.49 610.71 448.48 611.6 448.4C612.49 448.32 614.55 447.88 615 447.8" fill="none" stroke="#151515" stroke-width="1.25" stroke-linecap="round" stroke-linejoin="round"/>
<path d="M615 447.8C615.67 447.63 618.67 446.82 620 446.5C621.33 446.18 622.33 445.97 625 445.4C627.67 444.83 636.23 443 640 442.2C643.77 441.4 651.17 439.89 653.3 439.4C655.43 438.91 655.32 438.79 656 438.5C656.68 438.21 657.81 437.63 658.4 437.2C658.99 436.77 659.95 435.81 660.4 435.3C660.85 434.79 661.52 433.85 661.8 433.4C662.08 432.95 662.41 432.1 662.5 431.9" fill="none" stroke="#222" stroke-width="1" stroke-linecap="round" stroke-linejoin="round"/>
<path d="M598.1 437C598.41 437.35 599.71 438.92 600.4 439.6C601.09 440.28 602.49 441.51 603.3 442.1C604.11 442.69 605.55 443.57 606.5 444C607.45 444.43 609.88 445.13 610.4 445.3" fill="none" stroke="#222" stroke-width="0.9" stroke-linecap="round" stroke-linejoin="round"/>
<path d="M612.8 444.5L620 442.7L640 438.5L658.7 434.6" fill="none" stroke="#333" stroke-width="0.85" stroke-linecap="round" stroke-linejoin="round"/>
<path d="M593.3 426.1C593.75 426 595.07 425.55 596 425.5C596.93 425.45 597.77 425.48 598.9 425.8C600.03 426.12 601.78 426.8 602.8 427.4C603.82 428 604.35 428.68 605 429.4C605.65 430.12 606.42 431.32 606.7 431.7" fill="none" stroke="#151515" stroke-width="1.1" stroke-linecap="round" stroke-linejoin="round"/>
<path d="M593.3 426.1L595.3 439.4" fill="none" stroke="#151515" stroke-width="1.1" stroke-linecap="round" stroke-linejoin="round"/>
<path d="M597.8 427.2L596.1 439.6" fill="none" stroke="#151515" stroke-width="1.1" stroke-linecap="round" stroke-linejoin="round"/>
<path d="M598.9 426.1L597.3 439.4" fill="none" stroke="#151515" stroke-width="1" stroke-linecap="round" stroke-linejoin="round"/>
<path d="M601.7 427.2L598.5 433.3" fill="none" stroke="#151515" stroke-width="1" stroke-linecap="round" stroke-linejoin="round"/>
<path d="M588.9 432.2L593.3 428.9" fill="none" stroke="#151515" stroke-width="1" stroke-linecap="round" stroke-linejoin="round"/>
<path d="M588.9 432.2L589.5 434.4L596.1 441.1" fill="none" stroke="#151515" stroke-width="1.1" stroke-linecap="round" stroke-linejoin="round"/>
<path d="M590.8 431.5L596.7 438.6" fill="none" stroke="#151515" stroke-width="0.9" stroke-linecap="round" stroke-linejoin="round"/>
</g>
</g>
<!-- /PARTS -->
</svg>
</body>
</html>
